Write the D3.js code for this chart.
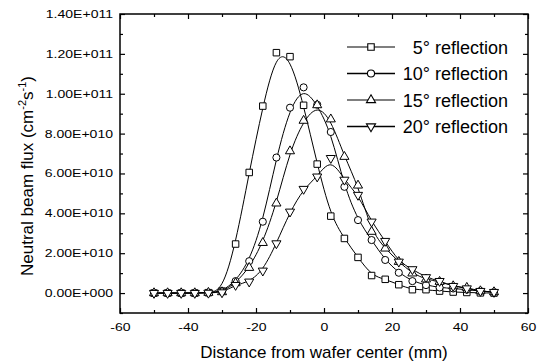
<!DOCTYPE html>
<html>
<head>
<meta charset="utf-8">
<script src="https://cdn.jsdelivr.net/npm/d3@7"></script>
<style>
  body { margin: 0; background: #fff; }
  svg { display: block; font-family: "Liberation Sans", Arial, sans-serif; }
</style>
</head>
<body>
<svg id="chart"></svg>
<script>
const width = 539;
const height = 364;

// positions along the wafer (mm), same for every series
const distance = [-50, -46, -42, -38, -34, -30, -26, -22, -18, -14, -10, -6, -2,
                  2, 6, 10, 14, 18, 22, 26, 30, 34, 38, 42, 46, 50];

// flux values in units of 1e10 cm^-2 s^-1
const flux5 = [0, 0, 0, 0, 0.02, 0.1, 2.46, 6.05, 9.38, 12.06, 11.86, 9.42, 6.47,
               3.86, 2.74, 1.79, 0.88, 0.69, 0.42, 0.17, 0.17, 0.1, 0.05, 0.03, 0.01, 0];
const flux10 = [0, 0, 0, 0, 0.02, 0.08, 0.6, 1.6, 3.58, 6.8, 9.3, 10.32, 9.45,
                8.08, 5.33, 3.66, 2.66, 1.66, 1.02, 0.6, 0.4, 0.28, 0.23, 0.17, 0.1, 0.05];
const flux15 = [0, 0, 0, 0, 0.02, 0.05, 0.5, 1.27, 2.52, 4.5, 7.12, 8.65, 9.43,
                8.72, 6.84, 5.4, 3.08, 2.24, 1.57, 0.99, 0.69, 0.57, 0.35, 0.27, 0.1, 0.05];
const flux20 = [0, 0, 0, 0, 0.01, 0.03, 0.4, 0.57, 1.12, 2.49, 4.08, 5.22, 5.84,
                6.77, 5.68, 4.92, 3.58, 2.61, 1.57, 1.19, 0.79, 0.6, 0.35, 0.23, 0.1, 0.05];

const seriesNames = ['5', '10', '15', '20'];
const seriesValues = [flux5, flux10, flux15, flux20];

const xMajor = [-60, -40, -20, 0, 20, 40, 60];
const xMinor = [-50, -30, -10, 10, 30, 50];
const xTickLabels = ['-60', '-40', '-20', '0', '20', '40', '60'];
const yMajor = [0, 2, 4, 6, 8, 10, 12, 14];
const yMinor = [-1, 1, 3, 5, 7, 9, 11, 13];
const yTickLabels = ['0.00E+000', '2.00E+010', '4.00E+010', '6.00E+010',
                     '8.00E+010', '1.00E+011', '1.20E+011', '1.40E+011'];

const margin = { top: 14, right: 11, bottom: 51, left: 120 };
const innerW = width - margin.left - margin.right;
const innerH = height - margin.top - margin.bottom;

const svg = d3.select('#chart')
              .attr('width', width)
              .attr('height', height);

const g = svg.append('g')
             .attr('transform', `translate(${margin.left},${margin.top})`);

const x = d3.scaleLinear().domain([-60, 60]).range([0, innerW]);
const y = d3.scaleLinear().domain([-1, 14]).range([innerH, 0]);

// tick labels in the scan are wider than they are tall
const stretch = 1.3;
const widen = sel => sel.selectAll('text')
  .attr('x', function () { return (+d3.select(this).attr('x') || 0) / stretch; })
  .attr('transform', `scale(${stretch},1)`);

const tickStyle = sel => {
  sel.select('.domain').remove();
  sel.selectAll('line').attr('stroke', '#000').attr('stroke-width', 1.2);
  sel.selectAll('text').attr('fill', '#000').style('font-size', '10.8px');
};

// bottom axis, ticks pointing inward
g.append('g')
  .attr('transform', `translate(0,${innerH})`)
  .call(d3.axisBottom(x).tickValues(xMajor).tickSize(-5).tickPadding(10)
          .tickFormat((d, i) => xTickLabels[i]))
  .call(tickStyle).call(widen);
g.append('g')
  .attr('transform', `translate(0,${innerH})`)
  .call(d3.axisBottom(x).tickValues(xMinor).tickSize(-3).tickFormat(''))
  .call(tickStyle);
// top axis
g.append('g')
  .call(d3.axisTop(x).tickValues(xMajor).tickSize(-5).tickFormat(''))
  .call(tickStyle);
g.append('g')
  .call(d3.axisTop(x).tickValues(xMinor).tickSize(-3).tickFormat(''))
  .call(tickStyle);

// left axis
g.append('g')
  .call(d3.axisLeft(y).tickValues(yMajor).tickSize(-5).tickPadding(7)
          .tickFormat((d, i) => yTickLabels[i]))
  .call(tickStyle).call(widen);
g.append('g')
  .call(d3.axisLeft(y).tickValues(yMinor).tickSize(-3).tickFormat(''))
  .call(tickStyle);
// right axis
g.append('g')
  .attr('transform', `translate(${innerW},0)`)
  .call(d3.axisRight(y).tickValues(yMajor).tickSize(-5).tickFormat(''))
  .call(tickStyle);
g.append('g')
  .attr('transform', `translate(${innerW},0)`)
  .call(d3.axisRight(y).tickValues(yMinor).tickSize(-3).tickFormat(''))
  .call(tickStyle);

// frame
g.append('rect')
  .attr('width', innerW)
  .attr('height', innerH)
  .attr('fill', 'none')
  .attr('stroke', '#000')
  .attr('stroke-width', 1.5);

// the smooth curves don't go exactly through the peak points, basis spline is close
const line = d3.line()
  .x(d => x(d[0]))
  .y(d => y(d[1]))
  .curve(d3.curveBasis);

const symbols = [
  d3.symbol().type(d3.symbolSquare).size(42),
  d3.symbol().type(d3.symbolCircle).size(40),
  d3.symbol().type(d3.symbolTriangle).size(36),
  d3.symbol().type(d3.symbolTriangle).size(36)
];
const symbolRotate = [0, 0, 0, 180];

seriesValues.forEach((vals, si) => {
  const pts = distance.map((d, i) => [d, vals[i]]);
  g.append('path')
    .datum(pts)
    .attr('d', line)
    .attr('fill', 'none')
    .attr('stroke', '#000')
    .attr('stroke-width', 1);
});

seriesValues.forEach((vals, si) => {
  const pts = distance.map((d, i) => [d, vals[i]]);
  g.append('g')
    .selectAll('path')
    .data(pts)
    .enter()
    .append('path')
      .attr('d', symbols[si])
      .attr('transform', d => `translate(${x(d[0])},${y(d[1])}) rotate(${symbolRotate[si]})`)
      .attr('fill', '#fff')
      .attr('stroke', '#000')
      .attr('stroke-width', 1);
});

// legend
const legend = svg.append('g');
seriesNames.forEach((name, i) => {
  const ly = 47 + i * 26.5;
  legend.append('line')
    .attr('x1', 347).attr('x2', 395)
    .attr('y1', ly).attr('y2', ly)
    .attr('stroke', '#000')
    .attr('stroke-width', i % 2 ? 1.5 : 1.1);
  legend.append('path')
    .attr('d', symbols[i])
    .attr('transform', `translate(371,${ly}) rotate(${symbolRotate[i]})`)
    .attr('fill', '#fff')
    .attr('stroke', '#000')
    .attr('stroke-width', 1.1);
  legend.append('text')
    .attr('x', 508)
    .attr('y', ly + 6.5)
    .attr('text-anchor', 'end')
    .style('font-size', '18px')
    .text(`${name}° reflection`);
});

// axis titles
svg.append('text')
  .attr('x', margin.left + x(0))
  .attr('y', 358)
  .attr('text-anchor', 'middle')
  .style('font-size', '17px')
  .text('Distance from wafer center (mm)');

const yTitle = svg.append('text')
  .attr('transform', 'translate(33,176) rotate(-90)')
  .attr('text-anchor', 'middle')
  .style('font-size', '17px');
yTitle.append('tspan').text('Neutral beam flux (cm');
yTitle.append('tspan').text('-2').attr('dy', -7).style('font-size', '11px');
yTitle.append('tspan').text('s').attr('dy', 7);
yTitle.append('tspan').text('-1').attr('dy', -7).style('font-size', '11px');
yTitle.append('tspan').text(')').attr('dy', 7);
</script>
</body>
</html>
